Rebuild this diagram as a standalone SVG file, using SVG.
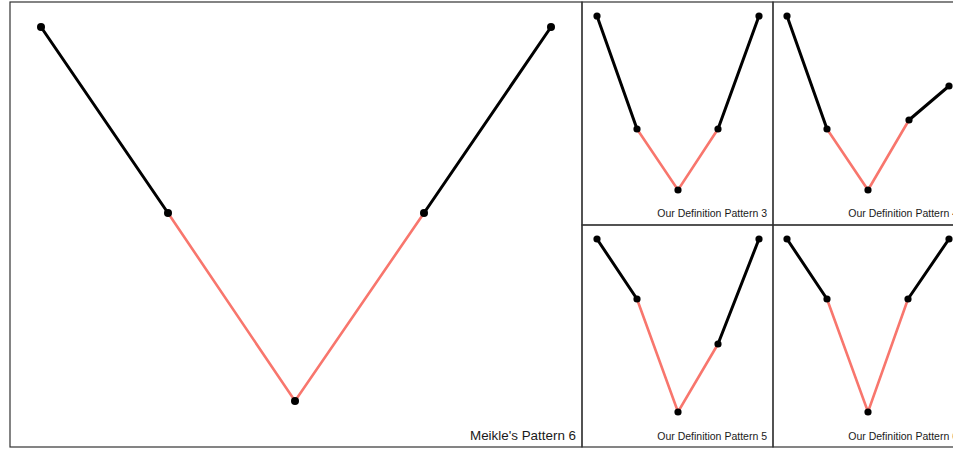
<svg xmlns="http://www.w3.org/2000/svg" width="953" height="449" viewBox="0 0 953 449">
<style>
.frame{fill:none;stroke:#333;stroke-width:1.2}
.blk{fill:none;stroke:#000;stroke-width:3;stroke-linecap:round;stroke-linejoin:round}
.red{fill:none;stroke:#F8766D;stroke-width:2.6;stroke-linecap:round}
.pt{fill:#000}
.lbl{font-family:"Liberation Sans",Arial,sans-serif;fill:#1a1a1a;text-anchor:end}
.big{font-size:13.4px}
.sm{font-size:10.5px}
</style>
<rect width="953" height="449" fill="#fff"/>
<g id="panel-main">
<rect class="frame" x="10" y="2" width="572" height="445"/>
<polyline class="blk" points="41,27 168,213"/>
<polyline class="red" points="168,213 295,401 424,213"/>
<polyline class="blk" points="424,213 551,27"/>
<g class="pt"><circle cx="41" cy="27" r="4"/><circle cx="168" cy="213" r="4"/><circle cx="295" cy="401" r="4"/><circle cx="424" cy="213" r="4"/><circle cx="551" cy="27" r="4"/></g>
<text class="lbl big" x="576" y="440">Meikle's Pattern 6</text>
</g>
<g id="panel-3">
<rect class="frame" x="582" y="2" width="191" height="223"/>
<polyline class="blk" points="597,16 637,129"/>
<polyline class="red" points="637,129 678,190 718,129"/>
<polyline class="blk" points="718,129 759,16"/>
<g class="pt"><circle cx="597" cy="16" r="3.6"/><circle cx="637" cy="129" r="3.6"/><circle cx="678" cy="190" r="3.6"/><circle cx="718" cy="129" r="3.6"/><circle cx="759" cy="16" r="3.6"/></g>
<text class="lbl sm" x="767" y="217">Our Definition Pattern 3</text>
</g>
<g id="panel-4">
<rect class="frame" x="773" y="2" width="200" height="223"/>
<polyline class="blk" points="787,16 827,129"/>
<polyline class="red" points="827,129 868,190 909,120"/>
<polyline class="blk" points="909,120 949,86"/>
<g class="pt"><circle cx="787" cy="16" r="3.6"/><circle cx="827" cy="129" r="3.6"/><circle cx="868" cy="190" r="3.6"/><circle cx="909" cy="120" r="3.6"/><circle cx="949" cy="86" r="3.6"/></g>
<text class="lbl sm" x="958" y="217">Our Definition Pattern 4</text>
</g>
<g id="panel-5">
<rect class="frame" x="582" y="225" width="191" height="222"/>
<polyline class="blk" points="597,239 637,299"/>
<polyline class="red" points="637,299 678,412 718,344"/>
<polyline class="blk" points="718,344 759,239"/>
<g class="pt"><circle cx="597" cy="239" r="3.6"/><circle cx="637" cy="299" r="3.6"/><circle cx="678" cy="412" r="3.6"/><circle cx="718" cy="344" r="3.6"/><circle cx="759" cy="239" r="3.6"/></g>
<text class="lbl sm" x="767" y="440">Our Definition Pattern 5</text>
</g>
<g id="panel-6">
<rect class="frame" x="773" y="225" width="200" height="222"/>
<polyline class="blk" points="787,239 827,299"/>
<polyline class="red" points="827,299 868,412 908,299"/>
<polyline class="blk" points="908,299 949,239"/>
<g class="pt"><circle cx="787" cy="239" r="3.6"/><circle cx="827" cy="299" r="3.6"/><circle cx="868" cy="412" r="3.6"/><circle cx="908" cy="299" r="3.6"/><circle cx="949" cy="239" r="3.6"/></g>
<text class="lbl sm" x="958" y="440">Our Definition Pattern 6</text>
</g>
</svg>
